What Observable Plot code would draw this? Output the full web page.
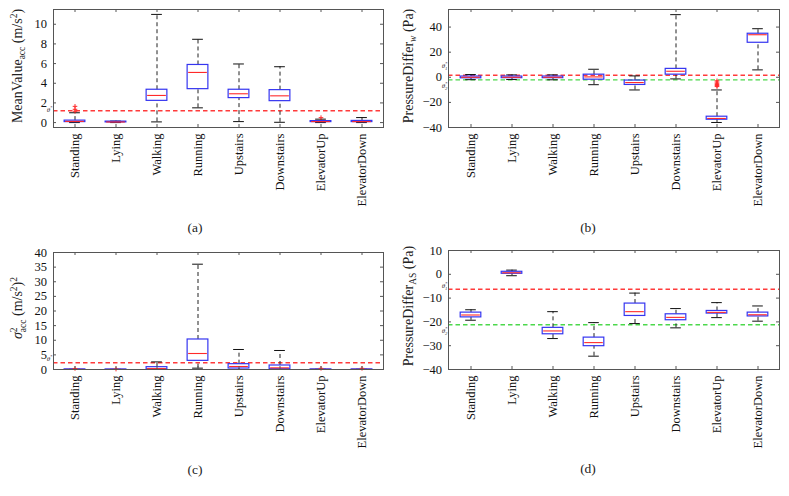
<!DOCTYPE html>
<html><head><meta charset="utf-8">
<script src="https://cdn.jsdelivr.net/npm/d3@7"></script>
<script src="https://cdn.jsdelivr.net/npm/@observablehq/plot@0.6"></script>
<style>
body{margin:0;background:#fff;}
#root{position:relative;width:789px;height:496px;overflow:hidden;font-family:"Liberation Serif",serif;background:#fff;}
.panel{position:absolute;}
.cap{position:absolute;font-size:13.5px;transform:translate(-50%,-50%);color:#222;white-space:nowrap;}
</style></head><body><div id="root"></div>
<script>
const categories = ["Standing","Lying","Walking","Running","Upstairs","Downstairs","ElevatorUp","ElevatorDown"];

// (a) MeanValue_acc (m/s^2)
const aLow  = [0, 0, 0.07, 1.5, 0.1, 0.03, 0, 0];
const aQ1   = [0.05, 0.02, 2.21, 3.4, 2.49, 2.18, 0.05, 0.05];
const aMed  = [0.12, 0.06, 2.76, 5.1, 2.93, 2.72, 0.1, 0.1];
const aQ3   = [0.2, 0.1, 3.34, 5.86, 3.34, 3.3, 0.15, 0.17];
const aHigh = [1.0, 0.15, 11.0, 8.47, 5.96, 5.68, 0.35, 0.51];
const aOutCat = ["Standing","Standing","Standing","ElevatorUp"];
const aOutVal = [1.15, 1.35, 1.65, 0.5];
const aThresholds = [1.2];
const aTicks = [0, 2, 4, 6, 8, 10];
const aDomain = [-0.5, 11.5];

// (b) PressureDiffer_w (Pa)
const bLow  = [-1.9, -1.8, -2.0, -5.9, -10.1, -1.3, -36.0, 5.9];
const bQ1   = [-0.8, -0.7, -0.7, -1.9, -6.1, 2.1, -33.8, 27.5];
const bMed  = [0, 0, 0, 0.3, -4.2, 4.8, -32.8, 33.9];
const bQ3   = [0.6, 0.6, 0.6, 2.1, -2.6, 6.7, -31.4, 34.7];
const bHigh = [2.2, 1.9, 1.9, 6.4, 1.1, 49.9, -10.1, 38.7];
const bOutCat = ["ElevatorUp","ElevatorUp","ElevatorUp","ElevatorUp","ElevatorUp","ElevatorUp"];
const bOutVal = [-2.8, -3.8, -4.8, -5.8, -6.6, -7.4];
const bThresholds = [1.6, -2.1];
const bTicks = [-40, -20, 0, 20, 40];
const bDomain = [-40, 54];

// (c) sigma^2_acc (m/s^2)^2
const cLow  = [0, 0, 0, 0.46, 0, 0, 0, 0];
const cQ1   = [0, 0, 0.02, 2.96, 0.34, 0.1, 0, 0];
const cMed  = [0.02, 0.01, 0.3, 5.47, 1.03, 0.57, 0.02, 0.02];
const cQ3   = [0.05, 0.03, 0.8, 10.26, 1.82, 1.37, 0.05, 0.05];
const cHigh = [0.1, 0.06, 2.6, 36.0, 6.84, 6.5, 0.1, 0.1];
const cOutCat = ["Standing","Lying","ElevatorUp","ElevatorDown"];
const cOutVal = [0.35, 0.15, 0.4, 0.4];
const cThresholds = [2.3];
const cTicks = [0, 5, 10, 15, 20, 25, 30, 35, 40];
const cDomain = [0, 40];

// (d) PressureDiffer_AS (Pa)
const dLow  = [-19.3, -0.6, -27.0, -34.4, -20.7, -22.5, -18.2, -19.7];
const dQ1   = [-18.1, 0.22, -25.2, -30.2, -17.5, -19.3, -16.5, -17.7];
const dMed  = [-17.1, 0.64, -23.8, -28.7, -15.7, -18.1, -16.0, -17.0];
const dQ3   = [-16.1, 1.06, -22.5, -26.6, -12.3, -16.8, -15.4, -16.1];
const dHigh = [-14.9, 1.76, -15.7, -20.3, -7.9, -14.4, -11.9, -13.3];
const dOutCat = [];
const dOutVal = [];
const dThresholds = [-6.3, -21.2];
const dTicks = [-40, -30, -20, -10, 0, 10];
const dDomain = [-40, 10];

const BLUE = "#3535f0", RED = "#ff2a2a", THR_RED = "#ff3b3b", THR_GREEN = "#4cd84c", FRAME = "#555";

function makePanel(cfg) {
  const {low, q1, med, q3, high, outCat, outVal, domain, ticks, thresholds, thrColors,
         width, height, ml, mr, mt, mb} = cfg;
  const data = categories.map((c, i) => ({cat: c, low: low[i], q1: q1[i], med: med[i], q3: q3[i], high: high[i]}));
  const outs = outCat.map((c, i) => ({cat: c, v: outVal[i]}));
  const fw = width - ml - mr, fh = height - mt - mb;
  const bw = fw / categories.length;
  const boxInset = (bw - 21) / 2, capInset = (bw - 11) / 2;
  return Plot.plot({
    width, height, marginLeft: ml, marginRight: mr, marginTop: mt, marginBottom: mb,
    style: {fontFamily: '"Liberation Serif", serif', fontSize: "12.5px", color: "#111", background: "transparent", overflow: "visible"},
    x: {type: "band", domain: categories, padding: 0, align: 0.5},
    y: {domain},
    marks: [
      ...thresholds.map((t, i) => Plot.ruleY([t], {stroke: thrColors[i], strokeDasharray: "4.5,3", strokeWidth: 1.4})),
      Plot.ruleX(data, {x: "cat", y1: "q3", y2: "high", stroke: "#222", strokeDasharray: "4,3"}),
      Plot.ruleX(data, {x: "cat", y1: "low", y2: "q1", stroke: "#222", strokeDasharray: "4,3"}),
      Plot.tickY(data, {x: "cat", y: "high", stroke: "#111", insetLeft: capInset, insetRight: capInset}),
      Plot.tickY(data, {x: "cat", y: "low", stroke: "#111", insetLeft: capInset, insetRight: capInset}),
      Plot.barY(data, {x: "cat", y1: "q1", y2: "q3", fill: "none", stroke: BLUE, strokeWidth: 1.2, insetLeft: boxInset, insetRight: boxInset}),
      Plot.tickY(data, {x: "cat", y: "med", stroke: RED, strokeWidth: 1.1, insetLeft: boxInset + 1, insetRight: boxInset + 1}),
      Plot.dot(outs, {x: "cat", y: "v", symbol: "plus", stroke: RED, r: 1.6, strokeWidth: 1}),
      Plot.frame({stroke: FRAME}),
      Plot.tickY(ticks, {y: d => d, insetRight: fw - 3, stroke: FRAME}),
      Plot.tickY(ticks, {y: d => d, insetLeft: fw - 3, stroke: FRAME}),
      Plot.tickX(categories, {x: d => d, insetBottom: fh - 3, stroke: FRAME}),
      Plot.tickX(categories, {x: d => d, insetTop: fh - 3, stroke: FRAME}),
      Plot.axisY({ticks, tickSize: 0, tickPadding: 6.5, label: null}),
      Plot.axisX({tickRotate: -90, tickSize: 0, tickPadding: 6, label: null})
    ]
  });
}

const root = document.getElementById("root");

function place(svg, left, top) {
  svg.classList.add("panel");
  svg.style.left = left + "px";
  svg.style.top = top + "px";
  root.appendChild(svg);
}

function thetaLabel(svg, cfg, yScale, t, sub, dy) {
  const g = d3.select(svg).append("text")
    .attr("x", cfg.ml - 0.5).attr("y", yScale.apply(t) + dy)
    .attr("text-anchor", "end")
    .attr("font-family", '"Liberation Serif", serif')
    .attr("font-size", 7).attr("font-style", "italic").attr("fill", "#333");
  g.append("tspan").text("θ");
  g.append("tspan").attr("font-size", 4.8).attr("dy", -3).text("*");
  if (sub) g.append("tspan").attr("font-size", 4.8).attr("dx", -2.4).attr("dy", 5).text(sub);
}

function yLabel(svg, x, y, parts) {
  const t = d3.select(svg).append("text")
    .attr("transform", `translate(${x},${y}) rotate(-90)`)
    .attr("text-anchor", "middle")
    .attr("font-family", '"Liberation Serif", serif')
    .attr("font-size", 14).attr("fill", "#222");
  for (const p of parts) {
    const s = t.append("tspan").text(p.t);
    if (p.size) s.attr("font-size", p.size);
    if (p.dy) s.attr("dy", p.dy);
    if (p.dx) s.attr("dx", p.dx);
    if (p.italic) s.attr("font-style", "italic");
  }
}

// Panel (a)
const cfgA = {low: aLow, q1: aQ1, med: aMed, q3: aQ3, high: aHigh, outCat: aOutCat, outVal: aOutVal,
  domain: aDomain, ticks: aTicks, thresholds: aThresholds, thrColors: [THR_RED],
  width: 394, height: 215, ml: 53, mr: 11, mt: 9, mb: 88};
const svgA = makePanel(cfgA);
place(svgA, 0, 0);
thetaLabel(svgA, cfgA, svgA.scale("y"), aThresholds[0], null, 1.5);
yLabel(svgA, 22, 66, [{t: "MeanValue"}, {t: "acc", size: 9.5, dy: 3}, {t: " (m/s", dy: -3}, {t: "2", size: 9.5, dy: -5}, {t: ")", dy: 5}]);

// Panel (b)
const cfgB = {low: bLow, q1: bQ1, med: bMed, q3: bQ3, high: bHigh, outCat: bOutCat, outVal: bOutVal,
  domain: bDomain, ticks: bTicks, thresholds: bThresholds, thrColors: [THR_RED, THR_GREEN],
  width: 395, height: 215, ml: 54, mr: 10, mt: 9, mb: 88};
const svgB = makePanel(cfgB);
place(svgB, 394, 0);
thetaLabel(svgB, cfgB, svgB.scale("y"), bThresholds[0], "1", -7);
thetaLabel(svgB, cfgB, svgB.scale("y"), bThresholds[1], "2", 9);
yLabel(svgB, 19, 66, [{t: "PressureDiffer"}, {t: "w", size: 9.5, dy: 3, italic: true}, {t: " (Pa)", dy: -3}]);

// Panel (c)
const cfgC = {low: cLow, q1: cQ1, med: cMed, q3: cQ3, high: cHigh, outCat: cOutCat, outVal: cOutVal,
  domain: cDomain, ticks: cTicks, thresholds: cThresholds, thrColors: [THR_RED],
  width: 394, height: 215, ml: 53, mr: 11, mt: 12, mb: 86};
const svgC = makePanel(cfgC);
place(svgC, 0, 240);
thetaLabel(svgC, cfgC, svgC.scale("y"), cThresholds[0], null, -1);
yLabel(svgC, 22, 68, [{t: "σ", italic: true}, {t: "2", size: 9.5, dy: -5}, {t: "acc", size: 9.5, dy: 9, dx: -4.8}, {t: " (m/s", dy: -4}, {t: "2", size: 9.5, dy: -5}, {t: ")", dy: 5}, {t: "2", size: 9.5, dy: -5}]);

// Panel (d)
const cfgD = {low: dLow, q1: dQ1, med: dMed, q3: dQ3, high: dHigh, outCat: dOutCat, outVal: dOutVal,
  domain: dDomain, ticks: dTicks, thresholds: dThresholds, thrColors: [THR_RED, THR_GREEN],
  width: 395, height: 215, ml: 54, mr: 10, mt: 10, mb: 86};
const svgD = makePanel(cfgD);
place(svgD, 394, 240);
thetaLabel(svgD, cfgD, svgD.scale("y"), dThresholds[0], "1", -1);
thetaLabel(svgD, cfgD, svgD.scale("y"), dThresholds[1], "2", 9);
yLabel(svgD, 18.5, 66, [{t: "PressureDiffer"}, {t: "AS", size: 9.5, dy: 3}, {t: " (Pa)", dy: -3}]);

// Sub-captions
[["(a)", 195, 228], ["(b)", 588, 228], ["(c)", 195, 470], ["(d)", 588, 469]].forEach(([t, x, y]) => {
  const d = document.createElement("div");
  d.className = "cap"; d.textContent = t;
  d.style.left = x + "px"; d.style.top = y + "px";
  root.appendChild(d);
});
</script></body></html>
